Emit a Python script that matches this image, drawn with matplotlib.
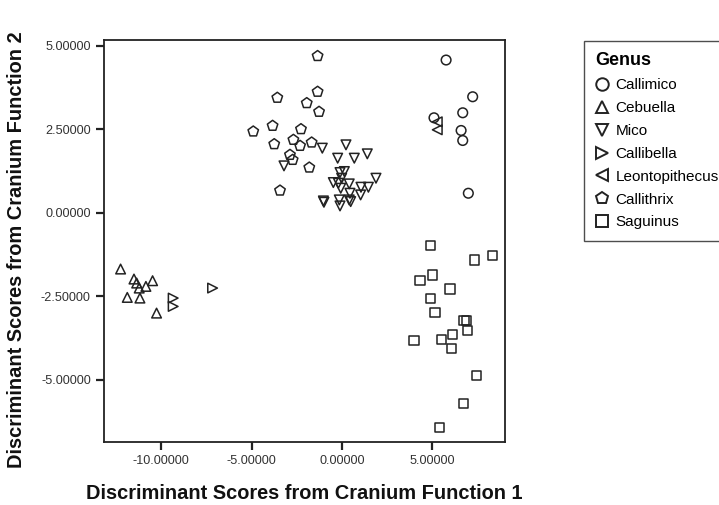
import numpy as np
import matplotlib
matplotlib.use("Agg")
import matplotlib.pyplot as plt
from matplotlib.lines import Line2D

plt.rcParams['font.family'] = ['Liberation Sans', 'DejaVu Sans']

# discriminant scores (function 1, function 2)
callimico_x = [5.76, 7.23, 6.68, 6.59, 6.68, 6.99, 5.09]
callimico_y = [4.57, 3.47, 2.99, 2.46, 2.16, 0.58, 2.84]

cebuella_x = [-12.25, -11.51, -11.36, -11.22, -10.85, -10.48, -11.88, -11.18, -10.26]
cebuella_y = [-1.69, -1.99, -2.11, -2.26, -2.21, -2.04, -2.54, -2.56, -3.01]

mico_x = [-1.09, -3.21, -1.00, 0.22, 1.40, -0.24, 0.68, -0.11, 0.13, 1.88, -0.48,
          -0.20, -0.07, 0.40, 1.05, 1.46, 0.44, 1.03, -1.03, -0.15, 0.40, 0.48,
          -0.11, -0.02]
mico_y = [1.93, 1.40, 0.31, 2.03, 1.76, 1.63, 1.63, 1.20, 1.23, 1.03, 0.90,
          0.88, 0.73, 0.86, 0.76, 0.76, 0.58, 0.53, 0.35, 0.38, 0.38, 0.33,
          0.20, 1.03]

callibella_x = [-9.34, -9.34, -7.16]
callibella_y = [-2.56, -2.81, -2.26]

leonto_x = [5.27, 5.27]
leonto_y = [2.72, 2.48]

callithrix_x = [-1.35, -1.35, -3.58, -1.95, -1.27, -4.91, -3.84, -2.27, -3.75,
                -2.69, -2.32, -1.68, -2.88, -2.73, -1.81, -3.43]
callithrix_y = [4.69, 3.62, 3.44, 3.28, 3.02, 2.43, 2.60, 2.50, 2.05,
                2.18, 2.00, 2.10, 1.73, 1.58, 1.35, 0.66]

saguinus_x = [4.91, 7.32, 8.34, 5.00, 4.32, 5.98, 4.91, 5.15, 6.75, 6.90, 6.95,
              3.98, 5.52, 6.13, 6.07, 7.42, 6.71, 5.38]
saguinus_y = [-0.99, -1.42, -1.29, -1.87, -2.04, -2.29, -2.58, -2.99, -3.23, -3.23,
              -3.53, -3.83, -3.79, -3.66, -4.08, -4.88, -5.71, -6.43]

genus = ["Callimico", "Cebuella", "Mico", "Callibella", "Leontopithecus",
         "Callithrix", "Saguinus"]
markers = ["o", "^", "v", ">", "<", "p", "s"]
sizes = [48, 48, 48, 48, 48, 62, 44]
data = [(callimico_x, callimico_y), (cebuella_x, cebuella_y), (mico_x, mico_y),
        (callibella_x, callibella_y), (leonto_x, leonto_y),
        (callithrix_x, callithrix_y), (saguinus_x, saguinus_y)]

fig = plt.figure(figsize=(7.19, 5.05), dpi=100)
ax = fig.add_axes([0.1446, 0.1248, 0.5578, 0.796])

for (xs, ys), m, s in zip(data, markers, sizes):
    ax.scatter(xs, ys, marker=m, s=s, facecolors="none", edgecolors="#222222",
               linewidths=1.1, zorder=3)

ax.set_xlim(-13.17, 9.02)
ax.set_ylim(-6.87, 5.17)
xt = [-10, -5, 0, 5]
yt = [5, 2.5, 0, -2.5, -5]
ax.set_xticks(xt)
ax.set_yticks(yt)
ax.set_xticklabels(["%.5f" % v for v in xt])
ax.set_yticklabels(["%.5f" % v for v in yt])
ax.tick_params(direction="out", length=6, width=1.6, labelsize=9.1,
               colors="#222222", labelcolor="#333333")
for sp in ax.spines.values():
    sp.set_linewidth(1.3)
    sp.set_color("#222222")

ax.set_xlabel("Discriminant Scores from Cranium Function 1", fontsize=14.4,
              fontweight="bold", labelpad=12, color="#111111")
ax.set_ylabel("Discriminant Scores from Cranium Function 2", fontsize=14.4,
              fontweight="bold", color="#111111")
ax.yaxis.set_label_coords(-0.194, 0.478)

handles = [Line2D([], [], marker=m, linestyle="none", markersize=9,
                  markerfacecolor="none", markeredgecolor="#222222",
                  markeredgewidth=1.4) for m in markers]
leg = fig.legend(handles, genus, title="Genus", loc="upper left",
                 bbox_to_anchor=(584 / 719, 1 - 41 / 505), borderaxespad=0,
                 frameon=True, fontsize=11, handlelength=0.8, handletextpad=0.5,
                 labelspacing=0.58, borderpad=0.75, fancybox=False,
                 alignment="left")
leg.get_title().set_fontweight("bold")
leg.get_title().set_fontsize(13)
leg.get_frame().set_edgecolor("#222222")
leg.get_frame().set_linewidth(1.0)

fig.savefig("out.png", dpi=100)
